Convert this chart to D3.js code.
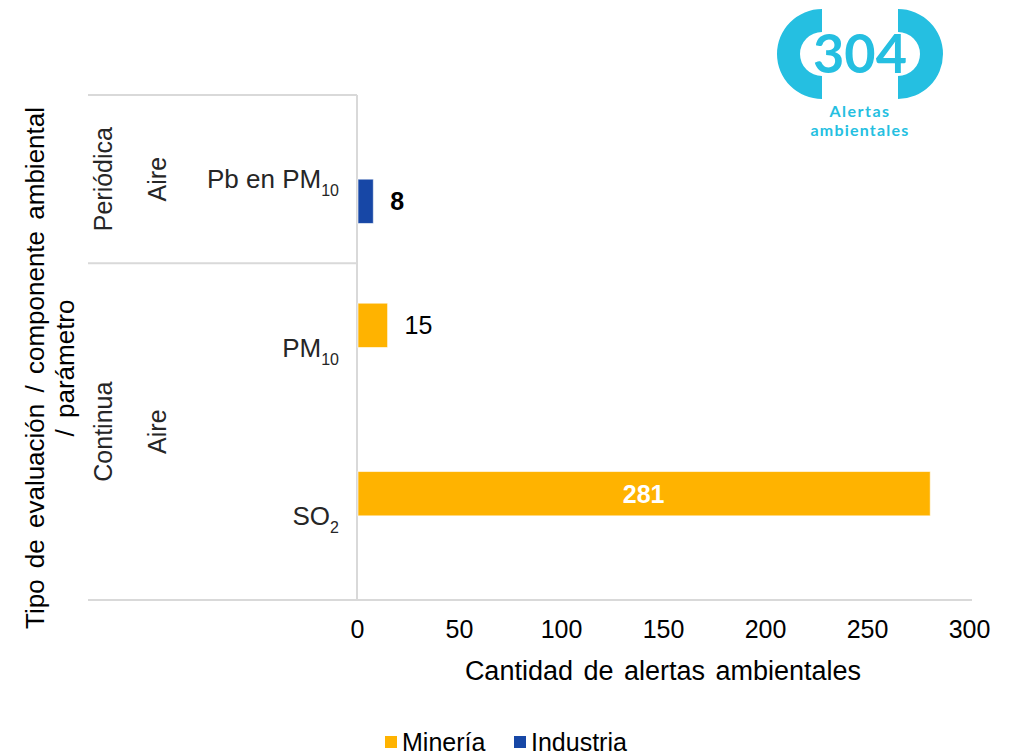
<!DOCTYPE html>
<html>
<head>
<meta charset="utf-8">
<script src="https://cdn.jsdelivr.net/npm/d3@7"></script>
<style>
  body { margin: 0; background: #fff; }
  svg { font-family: "Liberation Sans", Arial, sans-serif; }
</style>
</head>
<body>
<svg width="1013" height="755"></svg>
<script>
// data
const params = ['Pb en PM10', 'PM10', 'SO2'];
const paramBase = ['Pb en PM', 'PM', 'SO'];
const paramSub = ['10', '10', '2'];
const components = ['Aire', 'Aire'];
const evalTypes = ['Periódica', 'Continua'];
const groupSizes = [1, 2];          // parameters per evaluation type
const series = ['Minería', 'Industria'];
const mineria = [null, 15, 281];
const industria = [8, null, null];
const xTicks = [0, 50, 100, 150, 200, 250, 300];
const total = 304;

const colors = { 'Minería': '#FFB300', 'Industria': '#1747A6' };
const gridColor = '#d9d9d9';
const fs = 25;

const svg = d3.select('svg');

const x = d3.scaleLinear().domain([0, 300]).range([357, 969]);
const y = d3.scaleBand().domain(params).range([95, 600]).padding(0);
const ys = d3.scaleBand().domain(series).range([0, y.bandwidth()])
    .paddingInner(0).paddingOuter(0.9);

// frame lines
const left = 88;
svg.append('line').attr('x1', left).attr('x2', x(0)).attr('y1', 95).attr('y2', 95)
    .attr('stroke', gridColor).attr('stroke-width', 2);
svg.append('line').attr('x1', x(0)).attr('x2', x(0)).attr('y1', 95).attr('y2', 600)
    .attr('stroke', gridColor).attr('stroke-width', 2);
svg.append('line').attr('x1', left).attr('x2', 972).attr('y1', 600).attr('y2', 600)
    .attr('stroke', gridColor).attr('stroke-width', 2);

// group boundaries
let idx = 0;
const groups = groupSizes.map(function(n, i) {
    const y0 = y(params[idx]);
    const y1 = y(params[idx + n - 1]) + y.bandwidth();
    idx += n;
    return { type: evalTypes[i], comp: components[i], y0: y0, y1: y1 };
});
groups.slice(1).forEach(function(g) {
    svg.append('line').attr('x1', left).attr('x2', x(0)).attr('y1', g.y0).attr('y2', g.y0)
        .attr('stroke', gridColor).attr('stroke-width', 2);
});

groups.forEach(function(g) {
    const cy = (g.y0 + g.y1) / 2;
    svg.append('text')
        .attr('transform', `translate(112, ${cy}) rotate(-90)`)
        .attr('text-anchor', 'middle')
        .attr('font-size', fs).attr('fill', '#262626')
        .text(g.type);
    svg.append('text')
        .attr('transform', `translate(166, ${cy}) rotate(-90)`)
        .attr('text-anchor', 'middle')
        .attr('font-size', fs).attr('fill', '#262626')
        .text(g.comp);
});

// parameter labels with subscripts
params.forEach(function(p, i) {
    const t = svg.append('text')
        .attr('x', 339)
        .attr('y', y(p) + y.bandwidth() / 2 + 9)
        .attr('text-anchor', 'end')
        .attr('font-size', 26).attr('fill', '#262626');
    t.append('tspan').text(paramBase[i]);
    t.append('tspan').attr('font-size', 16).attr('dy', 8).text(paramSub[i]);
});

// bars
const rows = [];
params.forEach(function(p, i) {
    if (mineria[i] != null) rows.push({ p: p, s: 'Minería', v: mineria[i] });
    if (industria[i] != null) rows.push({ p: p, s: 'Industria', v: industria[i] });
});

svg.append('g').selectAll('rect')
    .data(rows)
    .join('rect')
    .attr('x', x(0) + 1)
    .attr('y', d => y(d.p) + ys(d.s))
    .attr('width', d => x(d.v) - x(0) - 1)
    .attr('height', ys.bandwidth())
    .attr('fill', d => colors[d.s])
    .attr('stroke', '#fff')
    .attr('stroke-opacity', 0.6);

// value labels
svg.append('g').selectAll('text')
    .data(rows)
    .join('text')
    .attr('x', d => d.v > 100 ? (x(0) + x(d.v)) / 2 : x(d.v) + 17)
    .attr('y', d => y(d.p) + ys(d.s) + ys.bandwidth() / 2 + 9)
    .attr('text-anchor', d => d.v > 100 ? 'middle' : 'start')
    .attr('font-size', fs)
    .attr('font-weight', d => (d.v > 100 || d.s === 'Industria') ? 'bold' : 'normal')
    .attr('fill', d => d.v > 100 ? '#fff' : '#000')
    .text(d => d.v);

// x axis
const xAxis = svg.append('g')
    .attr('transform', 'translate(0, 600)')
    .call(d3.axisBottom(x).tickValues(xTicks).tickSize(0).tickPadding(20));
xAxis.select('.domain').remove();
xAxis.selectAll('text')
    .attr('font-size', fs).attr('fill', '#000')
    .attr('font-family', '"Liberation Sans", Arial, sans-serif');

svg.append('text')
    .attr('x', 663).attr('y', 680)
    .attr('text-anchor', 'middle')
    .attr('font-size', 27).attr('fill', '#000')
    .attr('word-spacing', 3)
    .text('Cantidad de alertas ambientales');

// y axis title
const yTitle = svg.append('text')
    .attr('transform', 'translate(0, 368) rotate(-90)')
    .attr('text-anchor', 'middle')
    .attr('font-size', 26).attr('fill', '#000')
    .attr('word-spacing', 4);
yTitle.append('tspan').attr('x', 0).attr('y', 44).text('Tipo de evaluación  / componente ambiental');
yTitle.append('tspan').attr('x', 0).attr('y', 74).text('/ parámetro');

// legend
const legend = svg.append('g').attr('transform', 'translate(385, 742)');
const legX = [0, 129];
series.forEach(function(s, i) {
    const g = legend.append('g').attr('transform', `translate(${legX[i]}, 0)`);
    g.append('rect').attr('x', 0).attr('y', -6).attr('width', 12).attr('height', 12)
        .attr('fill', colors[s]);
    g.append('text').attr('x', 17).attr('y', 9)
        .attr('font-size', fs).attr('fill', '#000').text(s);
});

// logo
const logoColor = '#25BFE1';
const logo = svg.append('g');
const arc = d3.arc().innerRadius(22).outerRadius(45);
logo.append('path')
    .attr('transform', 'translate(822, 54)')
    .attr('d', arc({ startAngle: Math.PI, endAngle: 2 * Math.PI }))
    .attr('fill', logoColor);
logo.append('path')
    .attr('transform', 'translate(898, 54)')
    .attr('d', arc({ startAngle: 0, endAngle: Math.PI }))
    .attr('fill', logoColor);
logo.append('text')
    .attr('x', 860).attr('y', 73)
    .attr('text-anchor', 'middle')
    .attr('font-family', 'Lato, sans-serif')
    .attr('font-size', 54).attr('font-weight', 'bold')
    .attr('fill', logoColor)
    .text(total);
logo.append('text')
    .attr('x', 860).attr('y', 117)
    .attr('text-anchor', 'middle')
    .attr('font-family', 'Lato, sans-serif')
    .attr('font-size', 16).attr('font-weight', 'bold')
    .attr('letter-spacing', 1.5)
    .attr('fill', logoColor)
    .text('Alertas');
logo.append('text')
    .attr('x', 860).attr('y', 136)
    .attr('text-anchor', 'middle')
    .attr('font-family', 'Lato, sans-serif')
    .attr('font-size', 16).attr('font-weight', 'bold')
    .attr('letter-spacing', 1.2)
    .attr('fill', logoColor)
    .text('ambientales');
</script>
</body>
</html>
